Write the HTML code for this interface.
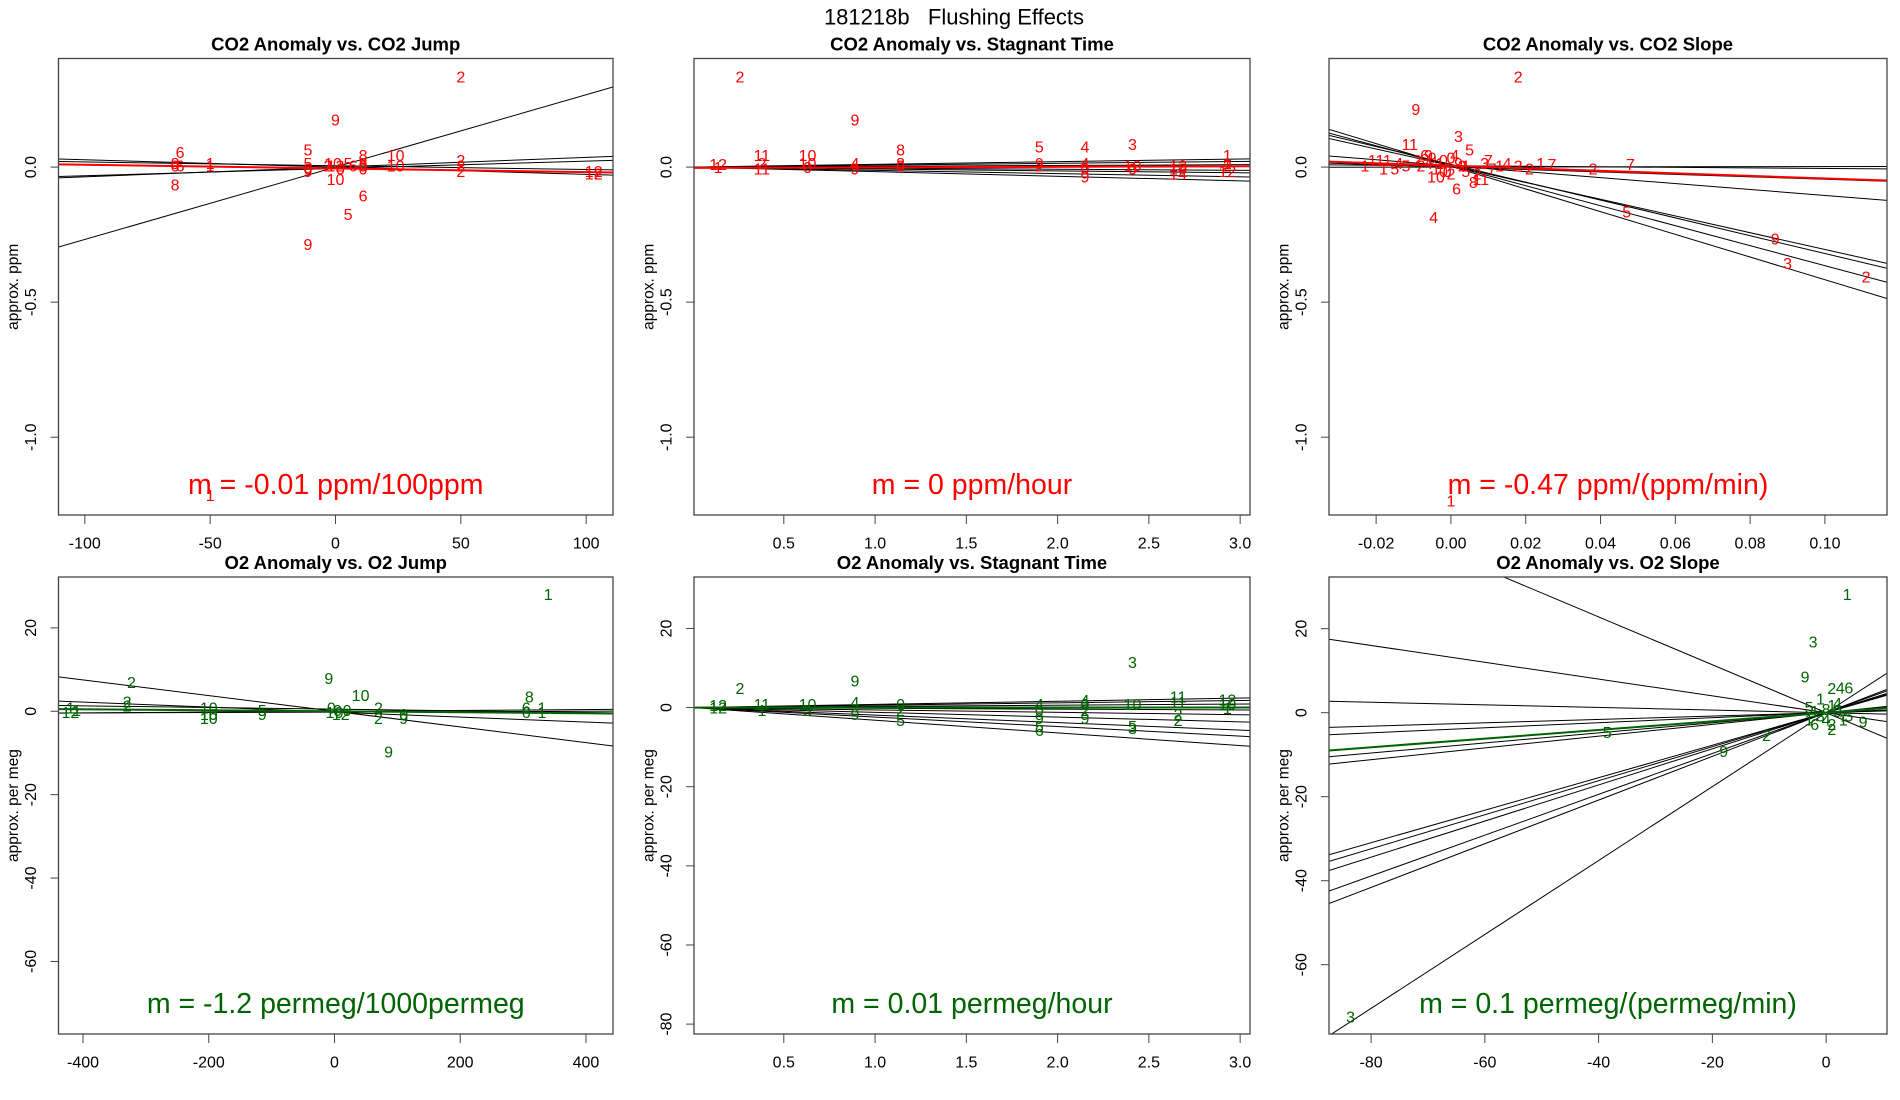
<!DOCTYPE html>
<html><head><meta charset="utf-8">
<style>
html,body{margin:0;padding:0;background:#fff;}
svg{display:block;font-family:"Liberation Sans",sans-serif;}
</style></head>
<body>
<svg id="fig" width="1900" height="1100" viewBox="0 0 1900 1100">
<text x="954" y="17" text-anchor="middle" dominant-baseline="central" font-size="22" style="white-space:pre">181218b   Flushing Effects</text>
</svg>
<script>
// ---------- Panel 1: CO2 Anomaly vs CO2 Jump ----------
const p1X=[50,0,-62,-11,11,24,-50,-50,-64,11,5,-11,0,-50,-64,-64,-62,-11,-11,-11,-3,-1,0,2,5,7,11,11,11,24,50,50,50,103,103];
const p1Y=[0.33,0.17,0.05,0.06,0.04,0.04,0.01,0.0,-0.07,-0.11,-0.18,-0.29,-0.05,-1.22,0.01,0,0,0.01,-0.01,-0.02,0,0.01,0,-0.01,0.01,0,0,0.01,-0.01,0,0.02,0,-0.02,-0.02,-0.03];
const p1Lab=["2","9","6","5","8","10","1","1","8","6","5","9","10","1","8","0","6","5","0","9","2","10","12","0","5","6","0","8","0","10","2","2","2","12","12"];
const p1Slopes=[0.00268,-0.00027,0.00036,0.00027,-0.00014];
const p1Ints=[0,0,0,-0.005,0.005];
const p1Main=[-0.000136,-0.005];
const p1XTicks=[-100,-50,0,50,100];
const p1XTickLabels=["-100","-50","0","50","100"];
const p1YTicks=[0,-0.5,-1];
const p1YTickLabels=["0.0","-0.5","-1.0"];

// ---------- Panel 2: CO2 Anomaly vs Stagnant Time ----------
const p2X=[0.26,0.89,0.38,0.63,1.14,1.90,2.15,2.41,2.93,2.15,2.66,2.93,0.14,0.14,0.38,0.38,0.63,0.63,0.89,0.89,1.14,1.14,1.90,1.90,2.15,2.15,2.41,2.41,2.66,2.66,2.93,2.93];
const p2Y=[0.33,0.17,0.04,0.04,0.06,0.07,0.07,0.08,0.04,-0.04,-0.03,-0.02,0.005,-0.005,0.01,-0.01,0.01,-0.005,0.01,-0.01,0.01,0,0.01,0,0.01,-0.01,0,-0.01,0,-0.01,0.01,0];
const p2Lab=["2","9","11","10","8","5","4","3","1","9","14","12","12","1","2","11","10","0","4","9","8","0","9","2","4","0","10","0","12","10","1","2"];
const p2Slopes=[-0.017,-0.012,-0.007,-0.004,0.003,0.007,0.01];
const p2Ints=[0,0,0,0,0,0,0];
const p2Main=[0.002,-0.003];
const p2XTicks=[0.5,1.0,1.5,2.0,2.5,3.0];
const p2XTickLabels=["0.5","1.0","1.5","2.0","2.5","3.0"];
const p2YTicks=[0,-0.5,-1];
const p2YTickLabels=["0.0","-0.5","-1.0"];

// ---------- Panel 3: CO2 Anomaly vs CO2 Slope ----------
const p3X=[0.018,-0.0094,-0.011,0.002,-0.0046,0.047,0.0867,0.090,0.111,0.0,0.048,0.038,0.0015,-0.004,0.008,-0.023,-0.02,-0.017,-0.014,-0.012,-0.009,-0.007,-0.005,-0.003,-0.001,0.001,0.003,0.005,0.007,0.009,0.011,0.013,0.015,0.018,0.021,0.024,0.027,-0.018,-0.015,-0.006,-0.002,0.004,0.006,0.01,-0.008,-0.004,-0.002,0.0,0.002,0.004,-0.006,0.0];
const p3Y=[0.33,0.21,0.08,0.11,-0.19,-0.17,-0.27,-0.36,-0.41,-1.24,0.005,-0.01,-0.085,-0.04,-0.05,0.0,0.02,0.02,0.01,0.0,0.02,0.04,0.03,0.01,-0.02,0.04,0.0,0.06,-0.03,0.01,-0.01,0.0,0.01,0.0,-0.01,0.01,0.005,-0.01,-0.01,0.04,-0.02,0.0,-0.06,0.02,0.0,-0.01,0.02,-0.03,0.01,-0.02,0.01,0.03];
const p3Lab=["2","9","11","3","4","5","9","3","2","1","7","2","6","10","11","1","11","1","4","5","2","6","9","1","0","4","2","5","2","3","7","1","4","2","2","1","7","1","5","9","0","1","8","7","2","1","0","2","9","5","4","0"];
const p3Slopes=[-4.2,-3.7,-3.3,-3.1,-1.1,-0.45,-0.1,0.02];
const p3Ints=[0.003,0.005,0.01,0.005,0.005,0,0.005,0];
const p3Main=[-0.47,0.005];
const p3XTicks=[-0.02,0,0.02,0.04,0.06,0.08,0.10];
const p3XTickLabels=["-0.02","0.00","0.02","0.04","0.06","0.08","0.10"];
const p3YTicks=[0,-0.5,-1];
const p3YTickLabels=["0.0","-0.5","-1.0"];

// ---------- Panel 4: O2 Anomaly vs O2 Jump ----------
const p4X=[340,-323,-9,41.5,86,310,-420,-420,-410,-330,-330,-200,-200,-200,-115,-115,-5,0,5,10,20,70,70,110,110,305,305,330,330];
const p4Y=[27.8,6.7,7.6,3.5,-10,3.2,0.5,-0.5,0,2,1,0.5,-1,-2,0,-1,0.5,-0.5,0,-1,0,0.5,-2,-1,-2,0.5,-0.5,0.5,-0.5];
const p4Lab=["1","2","9","10","9","8","1","12","1","2","2","10","10","10","5","9","0","10","0","12","0","2","2","0","9","6","6","1","1"];
const p4Slopes=[-0.0188,-0.006,0.001,-0.002,0.0005];
const p4Ints=[0,-0.2,0,0.5,-0.2];
const p4Main=[-0.0012,0];
const p4XTicks=[-400,-200,0,200,400];
const p4XTickLabels=["-400","-200","0","200","400"];
const p4YTicks=[20,0,-20,-40,-60];
const p4YTickLabels=["20","0","-20","-40","-60"];

// ---------- Panel 5: O2 Anomaly vs Stagnant Time ----------
const p5X=[2.41,0.26,0.89,0.14,0.14,0.38,0.38,0.63,0.63,0.89,0.89,1.14,1.14,1.14,1.90,1.90,1.90,1.90,1.90,2.15,2.15,2.15,2.15,2.41,2.41,2.41,2.66,2.66,2.66,2.66,2.93,2.93,2.93];
const p5Y=[11.1,4.6,6.5,0.3,-0.3,0.5,-1,0.5,-1,1,-2,0.5,-1,-3.5,0.5,-1,-3,-5,-6,1.5,0.5,-1,-3,0.5,-5,-5.5,2.4,1,-2,-3.5,1.6,0.5,-0.5];
const p5Lab=["3","2","9","12","12","11","1","10","3","4","9","0","2","5","4","0","9","5","6","4","0","2","9","10","5","3","11","11","2","2","12","10","1"];
const p5Slopes=[-3.2,-2.4,-1.9,-1.2,-0.6,-0.2,0.3,0.6,0.8];
const p5Ints=[0,0,0,0,0,0,0,0,0];
const p5Main=[0.01,0];
const p5XTicks=[0.5,1.0,1.5,2.0,2.5,3.0];
const p5XTickLabels=["0.5","1.0","1.5","2.0","2.5","3.0"];
const p5YTicks=[20,0,-20,-40,-60,-80];
const p5YTickLabels=["20","0","-20","-40","-60","-80"];

// ---------- Panel 6: O2 Anomaly vs O2 Slope ----------
const p6X=[3.7,-2.3,-3.7,4,1,2.5,-38.5,-18,-10.5,-83.6,6.5,1,-3,-2,-1,0,1,2,-3,-2,0,1,3,2,-1,3,4];
const p6Y=[27.9,16.6,8.2,5.6,5.5,5.6,-4.9,-9.5,-5.7,-72.7,-2.5,-4.3,1,0,-1,0.5,1.5,0,-2,-3,-2,-3,-1,2,3,-2,-1];
const p6Lab=["1","3","9","6","2","4","5","9","2","3","9","2","5","1","3","8","1","0","1","6","4","2","7","4","1","1","5"];
const p6Slopes=[-0.57,-0.2,-0.031,0.12,0.14,0.387,0.405,0.43,0.486,0.52,0.88,0.06,0.04];
const p6Ints=[0,0,0,0,0,0,0,0,0,0,0,0,0];
const p6Main=[0.103,0];
const p6XTicks=[-80,-60,-40,-20,0];
const p6XTickLabels=["-80","-60","-40","-20","0"];
const p6YTicks=[20,0,-20,-40,-60];
const p6YTickLabels=["20","0","-20","-40","-60"];

const NS="http://www.w3.org/2000/svg";
const svg=document.getElementById('fig');
function mk(tag,attrs,parent){const e=document.createElementNS(NS,tag);for(const k in attrs)e.setAttribute(k,attrs[k]);(parent||svg).appendChild(e);return e;}

const panels=[
 {id:'co2-jump',title:'CO2 Anomaly vs. CO2 Jump',box:[58.5,58.5,613,515],xd:[-110.5,110.7],yd:[-1.288,0.402],X:p1X,Y:p1Y,L:p1Lab,S:p1Slopes,I:p1Ints,M:p1Main,xt:p1XTicks,xtl:p1XTickLabels,yt:p1YTicks,ytl:p1YTickLabels,col:'#ff0000',ylab:'approx. ppm',mtxt:'m = -0.01 ppm/100ppm'},
 {id:'co2-stagnant',title:'CO2 Anomaly vs. Stagnant Time',box:[694,58.5,1250,515],xd:[0.008,3.054],yd:[-1.288,0.402],X:p2X,Y:p2Y,L:p2Lab,S:p2Slopes,I:p2Ints,M:p2Main,xt:p2XTicks,xtl:p2XTickLabels,yt:p2YTicks,ytl:p2YTickLabels,col:'#ff0000',ylab:'approx. ppm',mtxt:'m = 0 ppm/hour'},
 {id:'co2-slope',title:'CO2 Anomaly vs. CO2 Slope',box:[1329,58.5,1887,515],xd:[-0.0326,0.1166],yd:[-1.288,0.402],X:p3X,Y:p3Y,L:p3Lab,S:p3Slopes,I:p3Ints,M:p3Main,xt:p3XTicks,xtl:p3XTickLabels,yt:p3YTicks,ytl:p3YTickLabels,col:'#ff0000',ylab:'approx. ppm',mtxt:'m = -0.47 ppm/(ppm/min)'},
 {id:'o2-jump',title:'O2 Anomaly vs. O2 Jump',box:[58.5,577,613,1034],xd:[-439,443],yd:[-77.4,32.2],X:p4X,Y:p4Y,L:p4Lab,S:p4Slopes,I:p4Ints,M:p4Main,xt:p4XTicks,xtl:p4XTickLabels,yt:p4YTicks,ytl:p4YTickLabels,col:'#006400',ylab:'approx. per meg',mtxt:'m = -1.2 permeg/1000permeg'},
 {id:'o2-stagnant',title:'O2 Anomaly vs. Stagnant Time',box:[694,577,1250,1034],xd:[0.008,3.054],yd:[-82.5,33],X:p5X,Y:p5Y,L:p5Lab,S:p5Slopes,I:p5Ints,M:p5Main,xt:p5XTicks,xtl:p5XTickLabels,yt:p5YTicks,ytl:p5YTickLabels,col:'#006400',ylab:'approx. per meg',mtxt:'m = 0.01 permeg/hour'},
 {id:'o2-slope',title:'O2 Anomaly vs. O2 Slope',box:[1329,577,1887,1034],xd:[-87.4,10.7],yd:[-76.5,32.3],X:p6X,Y:p6Y,L:p6Lab,S:p6Slopes,I:p6Ints,M:p6Main,xt:p6XTicks,xtl:p6XTickLabels,yt:p6YTicks,ytl:p6YTickLabels,col:'#006400',ylab:'approx. per meg',mtxt:'m = 0.1 permeg/(permeg/min)'}
];

panels.forEach((p,pi)=>{
 const [x0,y0,x1,y1]=p.box;
 const sx=v=>x0+(v-p.xd[0])/(p.xd[1]-p.xd[0])*(x1-x0);
 const sy=v=>y1-(v-p.yd[0])/(p.yd[1]-p.yd[0])*(y1-y0);
 const g=mk('g',{});
 
 
 const cp=mk('clipPath',{id:'clip'+pi},g);
 mk('rect',{x:x0,y:y0,width:x1-x0,height:y1-y0},cp);
 const t=mk('text',{x:(x0+x1)/2,y:y0-8,'text-anchor':'middle','font-size':'18.5','font-weight':'bold'},g);
 t.textContent=p.title;
 
 
 const plot=mk('g',{'clip-path':'url(#clip'+pi+')'},g);
 
 
 p.S.forEach((s,i)=>{
  const a=p.xd[0],b=p.xd[1];
  const l=mk('line',{x1:sx(a),y1:sy(p.I[i]+s*a),x2:sx(b),y2:sy(p.I[i]+s*b),stroke:'#000','stroke-width':1},plot);
  
  
 });
 p.X.forEach((xv,i)=>{
  const tx=mk('text',{x:sx(xv),y:sy(p.Y[i]),'text-anchor':'middle','dominant-baseline':'central','font-size':'16',fill:p.col},plot);
  tx.textContent=p.L[i];
  
  
 });
 {const a=p.xd[0],b=p.xd[1];
  const l=mk('line',{x1:sx(a),y1:sy(p.M[1]+p.M[0]*a),x2:sx(b),y2:sy(p.M[1]+p.M[0]*b),stroke:p.col,'stroke-width':2},plot);
  
  }
 const r=mk('rect',{x:x0,y:y0,width:x1-x0,height:y1-y0,fill:'none',stroke:'#444','stroke-width':1.3},g);
 
 
 p.xt.forEach((v,i)=>{
  const X=sx(v);
  const tk=mk('line',{x1:X,y1:y1,x2:X,y2:y1+9,stroke:'#444','stroke-width':1},g);
  
  
  const tl=mk('text',{x:X,y:y1+29,'text-anchor':'middle','dominant-baseline':'central','font-size':'16'},g);
  tl.textContent=p.xtl[i];
  
  
 });
 p.yt.forEach((v,i)=>{
  const Y=sy(v);
  const tk=mk('line',{x1:x0-8,y1:Y,x2:x0,y2:Y,stroke:'#444','stroke-width':1},g);
  
  
  const tl=mk('text',{x:x0-27,y:Y,'text-anchor':'middle','dominant-baseline':'central','font-size':'16',transform:`rotate(-90 ${x0-27} ${Y})`},g);
  tl.textContent=p.ytl[i];
  
  
 });
 const yc=(y0+y1)/2;
 const yl=mk('text',{x:x0-45,y:yc,'text-anchor':'middle','dominant-baseline':'central','font-size':'15.5',transform:`rotate(-90 ${x0-45} ${yc})`},g);
 yl.textContent=p.ylab;
 
 
 const mt=mk('text',{x:(x0+x1)/2,y:y1-30,'text-anchor':'middle','dominant-baseline':'central','font-size':'28.5',fill:p.col},g);
 mt.textContent=p.mtxt;
 
 
});
</script>
</body></html>
